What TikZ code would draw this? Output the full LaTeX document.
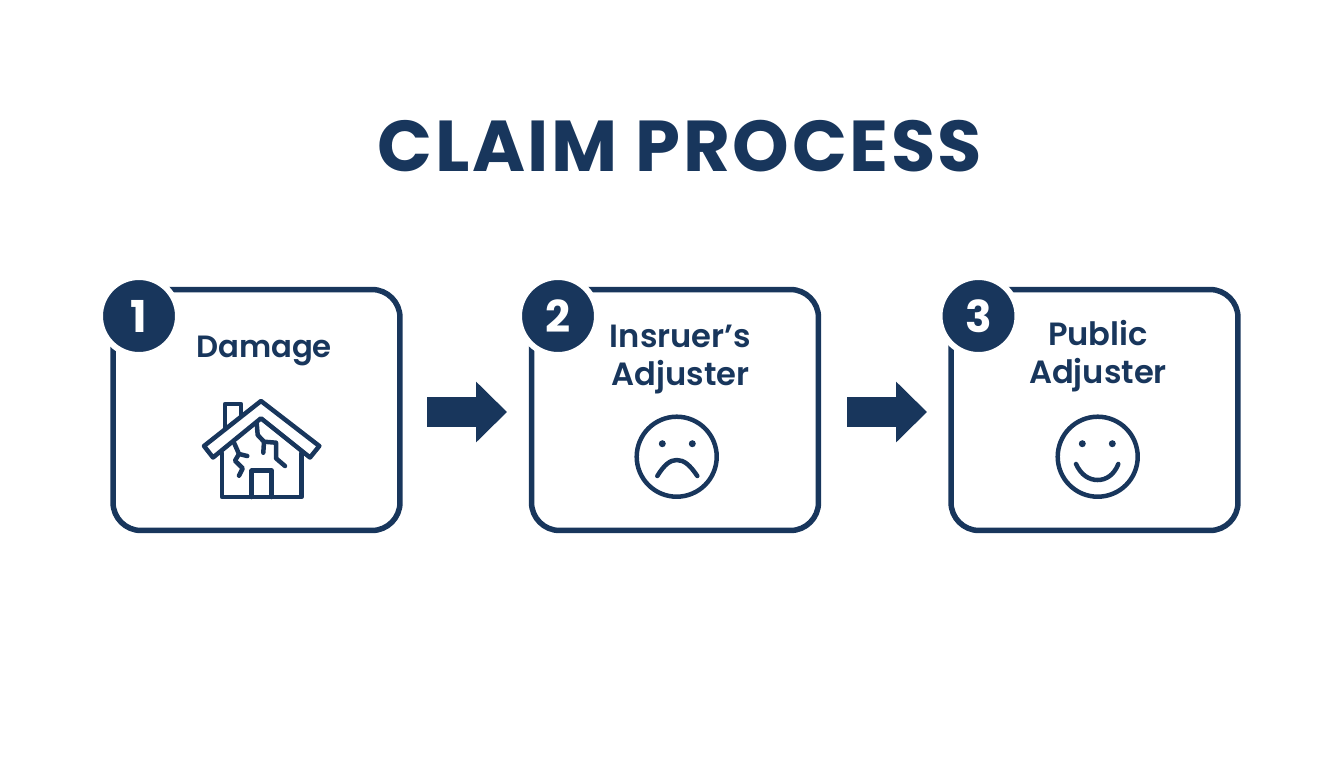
\documentclass[tikz,border=0pt]{standalone}
\usepackage{fontspec}
\setmainfont{Poppins}[BoldFont={Poppins SemiBold}]
\newfontfamily\heavyfont{Poppins Bold}
\usetikzlibrary{arrows.meta}
\definecolor{navy}{RGB}{24,54,92}
\tikzset{
  stepbox/.style={draw=navy,line width=0.11cm,rounded corners=0.56cm,outer sep=0pt,
    minimum width=5.74cm,minimum height=4.82cm},
  badge/.style={circle,fill=navy,draw=white,line width=0.12cm,minimum size=1.56cm,inner sep=0pt,
    text=white,font=\fontsize{25}{25}\selectfont\heavyfont},
  steplabel/.style={text=navy,align=center,inner sep=0pt,anchor=base,
    font=\fontsize{17.5}{21.6}\selectfont\bfseries},
  twolabel/.style={steplabel,font=\fontsize{18.3}{21.6}\selectfont\bfseries},
  flowarrow/.style={draw=navy,line width=0.6cm,-{Triangle[length=0.62cm,width=1.18cm]}},
  icon/.style={draw=navy,line width=0.09cm,line cap=round,line join=round},
}
\begin{document}
\begin{tikzpicture}[x=0.02cm,y=-0.02cm]
\useasboundingbox (0,0) rectangle (1344,768);
\node[text=navy,inner sep=0pt,anchor=base,font=\fontsize{41}{41}\selectfont\heavyfont\addfontfeature{LetterSpace=3.6}] (title) at (680,171) {CLAIM PROCESS};
%%
\node[stepbox] (damage) at (256.5,410) {};
\node[stepbox] (insurer) at (675,410) {};
\node[stepbox] (public) at (1094.5,410) {};
\node[badge] (one) at (139,316) {1};
\node[badge] (two) at (558,316) {2};
\node[badge] (three) at (978.5,316) {3};
%%
\node[steplabel] (damagetext) at (264,357) {Damage};
\node[twolabel] (insurertext) at (680.5,385) {Insruer’s\\Adjuster};
\node[twolabel] (publictext) at (1098,383) {Public\\Adjuster};
%%
\coordinate (a1) at (427,412);
\coordinate (a2) at (507,412);
\coordinate (b1) at (847,412);
\coordinate (b2) at (927,412);
\draw[flowarrow] (a1) -- (a2);
\draw[flowarrow] (b1) -- (b2);
%% house
\draw[icon] (261,401) -- (319.3,446) -- (310,457.5) -- (261,418.3) -- (213,457.5) -- (204,446) -- cycle;
\draw[icon] (225,429) -- (225,404) -- (241,404) -- (241,416);
\draw[icon] (222,453) -- (222,497) -- (301.5,497) -- (301.5,453);
\draw[icon] (251.7,497) -- (251.7,470.7) -- (271.7,470.7) -- (271.7,497);
\draw[icon] (234.3,443.3) -- (239,454) -- (247.3,456);
\draw[icon] (239,454) -- (235,460.7) -- (242.7,468.3) -- (239,475.7);
\draw[icon] (256.7,423.3) -- (257.7,435) -- (264,441.7) -- (263.3,452.7);
\draw[icon] (264,441.7) -- (276,442.7) -- (276,458.3) -- (285,466);
%% sad face
\draw[icon] (676.7,456.7) circle (40);
\fill[navy] (662.3,443.7) circle (3.5);
\fill[navy] (692.3,443.7) circle (3.5);
\draw[icon] (657.3,476) .. controls (664,465) and (670,460) .. (676.7,460) .. controls (684,460) and (690,465) .. (697.3,476);
%% happy face
\draw[icon] (1097.7,456.7) circle (40);
\fill[navy] (1082.3,443.7) circle (3.5);
\fill[navy] (1112.3,443.7) circle (3.5);
\draw[icon] (1076,464) .. controls (1081,475) and (1089,480) .. (1097.7,480) .. controls (1106,480) and (1114,475) .. (1118.3,464);
\end{tikzpicture}
\end{document}
